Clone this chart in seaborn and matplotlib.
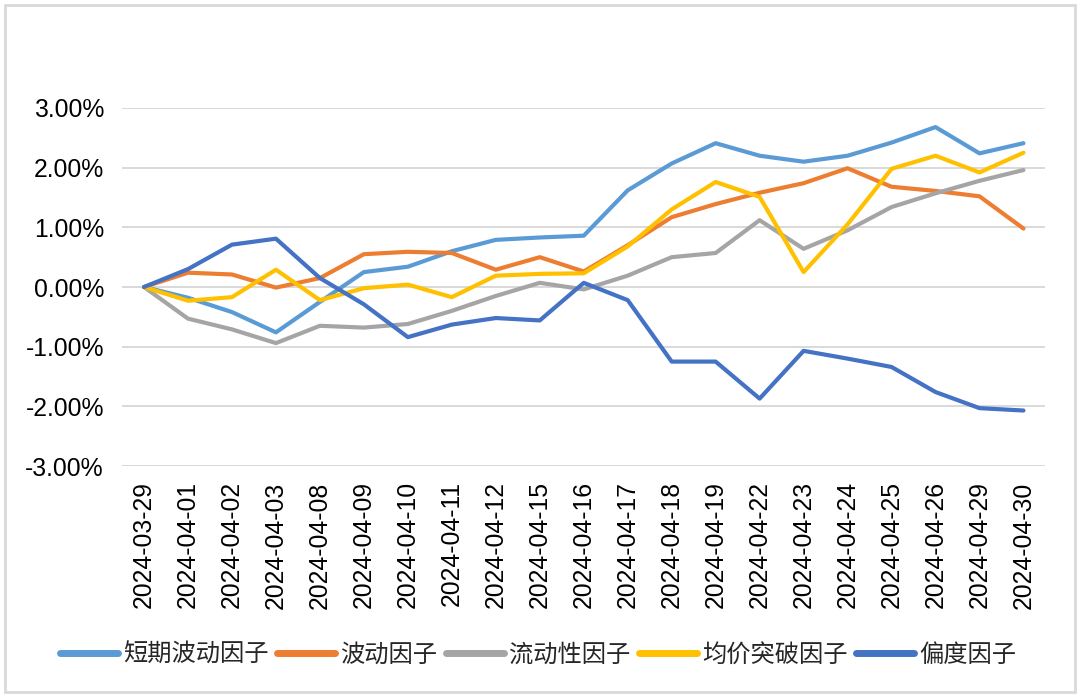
import matplotlib
matplotlib.use("Agg")
import matplotlib.pyplot as plt
import seaborn as sns
import pandas as pd
import numpy as np
from matplotlib.patches import Rectangle
from matplotlib.ticker import FuncFormatter

dates = ["2024-03-29", "2024-04-01", "2024-04-02", "2024-04-03", "2024-04-08",
         "2024-04-09", "2024-04-10", "2024-04-11", "2024-04-12", "2024-04-15",
         "2024-04-16", "2024-04-17", "2024-04-18", "2024-04-19", "2024-04-22",
         "2024-04-23", "2024-04-24", "2024-04-25", "2024-04-26", "2024-04-29",
         "2024-04-30"]

short_vol = [0.00, -0.18, -0.42, -0.76, -0.25, 0.25, 0.34, 0.60, 0.79, 0.83, 0.86,
             1.62, 2.07, 2.41, 2.20, 2.10, 2.20, 2.42, 2.68, 2.24, 2.41]
vol = [0.00, 0.24, 0.21, -0.01, 0.15, 0.55, 0.59, 0.57, 0.29, 0.50, 0.26,
       0.70, 1.17, 1.39, 1.58, 1.74, 1.99, 1.68, 1.61, 1.52, 0.98]
liquidity = [0.00, -0.53, -0.71, -0.94, -0.65, -0.68, -0.62, -0.40, -0.15, 0.07, -0.04,
             0.19, 0.50, 0.57, 1.12, 0.64, 0.95, 1.34, 1.57, 1.78, 1.96]
breakout = [0.00, -0.23, -0.17, 0.29, -0.22, -0.02, 0.04, -0.17, 0.19, 0.22, 0.23,
            0.68, 1.30, 1.76, 1.51, 0.25, 1.05, 1.98, 2.20, 1.92, 2.25]
skew = [0.00, 0.30, 0.71, 0.81, 0.15, -0.29, -0.84, -0.63, -0.52, -0.56, 0.07,
        -0.22, -1.25, -1.25, -1.87, -1.07, -1.20, -1.34, -1.76, -2.03, -2.07]

series_names = ["短期波动因子", "波动因子", "流动性因子", "均价突破因子", "偏度因子"]
series_values = [short_vol, vol, liquidity, breakout, skew]
colors = ["#5B9BD5", "#ED7D31", "#A5A5A5", "#FFC000", "#4472C4"]

n = len(dates)

rows = []
for name, vals in zip(series_names, series_values):
    for i, (d, v) in enumerate(zip(dates, vals)):
        rows.append({"idx": i, "date": d, "value": v, "factor": name})
df = pd.DataFrame(rows)

sns.set_theme(style="white")
plt.rcParams['font.family'] = ['Liberation Sans', 'Noto Sans CJK SC', 'DejaVu Sans']

fig = plt.figure(figsize=(10.8, 6.99), dpi=100)
ax = fig.add_axes([0.113, 0.3333, 0.855, 0.5122])

sns.lineplot(data=df, x="idx", y="value", hue="factor", hue_order=series_names,
             palette=colors, linewidth=3.0, ax=ax, legend=True, sort=False)

ax.set_xlim(-0.5, n - 0.5)
ax.set_ylim(-3, 3)
ax.set_yticks(np.arange(-3, 3.01, 1))
ax.yaxis.set_major_formatter(FuncFormatter(lambda v, p: f"{v:.2f}%"))
ax.set_xticks(range(n))
ax.set_xticklabels(dates, rotation=90)
ax.tick_params(axis="both", length=0, labelsize=17.8, colors="#000000")
ax.tick_params(axis="y", pad=13)
ax.tick_params(axis="x", pad=11)
ax.grid(axis="y", color="#D9D9D9", linewidth=1.4)
ax.grid(axis="x", visible=False)
for s in ax.spines.values():
    s.set_visible(False)
ax.set_xlabel("")
ax.set_ylabel("")
ax.set_axisbelow(True)

handles, labels = ax.get_legend_handles_labels()
for h in handles:
    h.set_linewidth(5)
ax.legend(handles, labels, loc="center", bbox_to_anchor=(538 / 1080, 1 - 655 / 699),
          bbox_transform=fig.transFigure, ncol=5, frameon=False,
          prop={"family": ["Noto Sans CJK SC", "DejaVu Sans"], "size": 17.5},
          handlelength=2.4, handletextpad=0.2, columnspacing=0.35, borderaxespad=0,
          borderpad=0)

fig.patches.append(Rectangle((5 / 1080, 1 - 692 / 699), 1070 / 1080, 687 / 699,
                             transform=fig.transFigure, fill=False,
                             edgecolor="#D9D9D9", linewidth=2))

fig.savefig("out.png", dpi=100)
